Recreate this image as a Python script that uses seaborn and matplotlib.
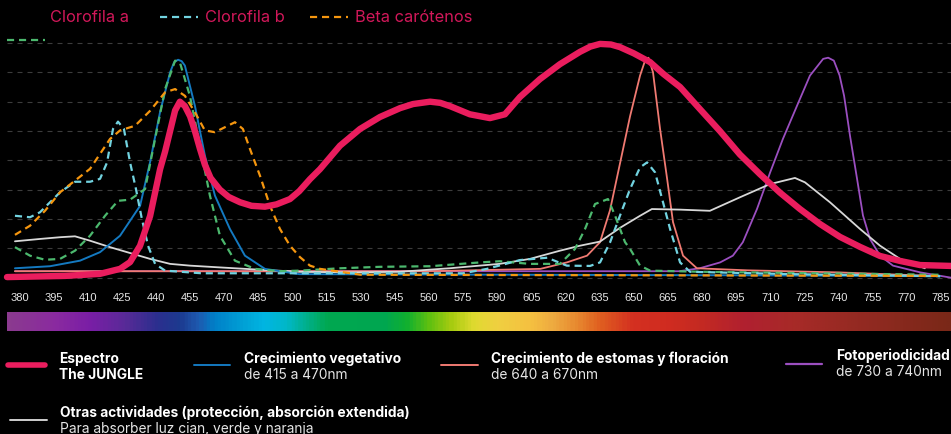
import numpy as np
import pandas as pd
import matplotlib

matplotlib.use("Agg")
import matplotlib.pyplot as plt
import seaborn as sns
from matplotlib.lines import Line2D
from matplotlib.colors import LinearSegmentedColormap

# --- datos (nm, intensidad relativa) ---
espectro_nm = [374.5, 400, 415.4, 424.2, 428.6, 433, 437.4, 441.8, 444, 446.2, 448.4, 450.5, 452.7,
               455, 457.1, 459.3, 461.5, 464, 468.1, 472, 477, 482, 487.9, 493, 498.9, 503,
               507.7, 512.1, 520.9, 529.7, 538.5, 547.3, 553, 560.5, 565, 569.2, 578, 586.8,
               593.4, 600, 608.8, 617.6, 626.4, 631, 635.2, 640, 644, 650, 657.2, 663, 670.4,
               679.1, 687.9, 696.7, 705.5, 714.3, 723.1, 731.9, 740.7, 749.5, 758.3, 767.1,
               775.9, 789.5]
espectro_val = [0.02, 0.06, 0.13, 0.3, 0.53, 1.09, 2.1, 3.7, 4.3, 5.0, 5.7, 6.0, 5.85,
                5.5, 5.0, 4.4, 3.85, 3.4, 3.0, 2.75, 2.57, 2.45, 2.42, 2.5, 2.68, 2.95,
                3.36, 3.7, 4.5, 5.07, 5.48, 5.78, 5.92, 6.0, 5.96, 5.85, 5.57, 5.44,
                5.57, 6.16, 6.77, 7.28, 7.7, 7.88, 7.97, 7.95, 7.86, 7.65, 7.35, 6.95, 6.5,
                5.75, 5.0, 4.2, 3.53, 2.9, 2.34, 1.83, 1.39, 1.05, 0.74, 0.57,
                0.43, 0.4]

vegetativo_nm = [378, 393.4, 406.6, 415.4, 424.2, 433, 437.4, 441.8, 446.2, 448, 449.7, 451.3,
                 452.7, 457.1, 461.5, 465.9, 472.5, 479.1, 487.9, 503, 600, 700, 784.7]
vegetativo_val = [0.32, 0.39, 0.58, 0.87, 1.43, 2.45, 3.94, 5.65, 7.0, 7.35, 7.43, 7.38,
                  7.23, 5.86, 4.16, 2.8, 1.66, 0.75, 0.3, 0.12, 0.1, 0.08, 0.05]

estomas_nm = [378, 560, 609, 620.6, 629.5, 635.2, 639.6, 644, 648.4, 652.8, 655, 656.5, 658.5,
              661.6, 664.7, 667.3, 671.7, 677.8, 700, 740, 784.7]
estomas_val = [0.22, 0.22, 0.3, 0.52, 0.75, 1.21, 2.3, 3.9, 5.5, 6.89, 7.4, 7.5, 7.0,
               5.07, 3.37, 1.89, 0.75, 0.32, 0.25, 0.18, 0.05]

foto_nm = [378, 670, 679, 688, 693.6, 698, 704.2, 710, 715.6, 721.8, 727.5, 733.3, 735.5, 738,
           740.5, 742.5, 745.1, 748.2, 750.8, 753.9, 758.3, 764, 776, 789.5]
foto_val = [0.22, 0.22, 0.32, 0.52, 0.75, 1.21, 2.34, 3.59, 4.73, 5.86, 6.89, 7.46, 7.5, 7.4,
            6.9, 6.2, 4.84, 3.37, 2.12, 1.32, 0.75, 0.41, 0.18, 0.0]

otras_nm = [378, 389, 398, 404.4, 411, 419.8, 428.6, 437.4, 446.2, 455, 468, 486, 503.3, 525,
            547, 569, 591, 604.4, 617.6, 626.4, 635.2, 644, 652.8, 658, 670.4, 683.5, 696.7,
            709.9, 720.9, 725.3, 736.3, 749.5, 758.3, 767.1, 778]
otras_val = [1.24, 1.32, 1.38, 1.41, 1.26, 1.04, 0.84, 0.64, 0.47, 0.41, 0.35, 0.27, 0.2, 0.18,
             0.2, 0.32, 0.47, 0.64, 0.92, 1.09, 1.23, 1.7, 2.11, 2.34, 2.32, 2.28, 2.74,
             3.19, 3.4, 3.25, 2.57, 1.66, 1.09, 0.64, 0.32]

clorofila_b_nm = [378, 384.6, 389, 393.4, 397.8, 404.4, 411, 415.4, 418.5, 421.1, 423.3, 425.9,
                  428.6, 431.2, 433.8, 436.5, 439.6, 444, 460, 575, 585.5, 600, 612, 620.6,
                  630.8, 635.2, 639.6, 644, 648.4, 652.8, 655.9, 659.4, 662.9, 666, 670.4,
                  674.8, 720, 784.7]
clorofila_b_val = [2.11, 2.06, 2.23, 2.57, 2.91, 3.27, 3.27, 3.37, 3.93, 5.07, 5.32, 5.07,
                   3.93, 3.02, 2.0, 1.09, 0.47, 0.24, 0.15, 0.15, 0.3, 0.6, 0.68, 0.41,
                   0.4, 0.52, 1.2, 2.12, 3.02, 3.76, 3.93, 3.59, 2.57, 1.66, 0.52,
                   0.2, 0.12, 0.05]

beta_nm = [378, 384.6, 391.2, 397.8, 404.4, 411, 415.4, 419.8, 424.2, 430.8, 437.4, 444, 448.4,
           452.7, 457.1, 461.5, 465.9, 470.3, 474.7, 478.2, 481.3, 485.7, 490.1, 494.5, 498.9,
           503.3, 507.7, 512.1, 530, 784.7]
beta_val = [1.46, 1.77, 2.28, 2.91, 3.31, 3.71, 4.22, 4.73, 5.02, 5.18, 5.69, 6.32, 6.43,
            6.2, 5.64, 5.02, 4.96, 5.13, 5.3, 5.07, 4.39, 3.48, 2.45, 1.66, 1.09,
            0.7, 0.41, 0.3, 0.1, 0.06]

verde_nm = [378, 384.6, 391.2, 397.8, 404.4, 411, 417.6, 423.3, 428.6, 435.2, 439.6, 444, 448.4,
            450.5, 454.9, 459.3, 463.7, 468.1, 474.7, 483.5, 494.5, 503.3, 520.9, 538.5, 560.5,
            582.4, 591.2, 604.4, 617.6, 624.2, 628.6, 633, 638.7, 641.8, 644, 646.2, 648.4,
            652.8, 657.2, 680, 730, 784.7]
verde_val = [1.04, 0.75, 0.61, 0.64, 0.92, 1.43, 2.11, 2.62, 2.66, 3.02, 4.73, 6.43, 7.4,
             7.34, 6.2, 4.5, 2.8, 1.43, 0.58, 0.3, 0.22, 0.24, 0.32, 0.37, 0.39,
             0.52, 0.56, 0.47, 0.47, 0.98, 1.66, 2.51, 2.68, 2.12, 1.66, 1.21, 0.98,
             0.41, 0.24, 0.2, 0.15, 0.1]

tick_nm = list(range(380, 786, 15))

# colores del espectro visible (nm, color)
spectrum_stops = [(374.5, "#8b3a8f"), (395, "#8a2aa0"), (410, "#7a1ea6"), (425, "#5a2a98"),
                  (440, "#2b2f8e"), (450, "#1c3a8f"), (458, "#1e5ab0"), (465, "#0080c8"),
                  (480, "#00a6d8"), (487, "#00b5e2"), (497, "#00b8c8"), (505, "#00b090"),
                  (515, "#00a850"), (540, "#00a651"), (550, "#10b030"), (560, "#60c010"),
                  (570, "#a8cc10"), (580, "#e0da30"), (590, "#f0d040"), (605, "#f5c040"),
                  (615, "#eeaa40"), (625, "#e88a30"), (635, "#e06020"), (650, "#d43020"),
                  (665, "#d02c20"), (680, "#c42a22"), (700, "#b02030"), (720, "#a82a28"),
                  (750, "#942a22"), (789.5, "#7a2818")]

sns.set_style("dark", {"axes.facecolor": "black", "figure.facecolor": "black"})
plt.rcParams["font.family"] = ["Inter", "DejaVu Sans"]

W, H = 951, 435
fig = plt.figure(figsize=(W / 100, H / 100), dpi=100)
fig.patch.set_facecolor("black")

XMIN, XMAX = 374.5, 789.5
YMIN, YMAX = -0.1, 8.1
ax = fig.add_axes([7 / W, 1 - 281.6 / H, 944 / W, (281.6 - 41.1) / H])
ax.set_facecolor("black")

for yv in range(0, 9):
    ax.axhline(yv, color="#3c3c3c", lw=0.8, ls=(0, (4.5, 4.5)), zorder=0)


def draw(nm, val, color, lw, ls="-", z=2):
    df = pd.DataFrame({"nm": nm, "val": val})
    sns.lineplot(data=df, x="nm", y="val", ax=ax, color=color, lw=lw, linestyle=ls,
                 estimator=None, sort=False, zorder=z, clip_on=False,
                 solid_capstyle="round", solid_joinstyle="round")


dash = (0, (3.2, 2.2))
draw(foto_nm, foto_val, "#9b4fc0", 1.3, z=2)
draw(estomas_nm, estomas_val, "#f07a72", 1.3, z=3)
draw(otras_nm, otras_val, "#d8d8d8", 1.3, z=3)
draw(vegetativo_nm, vegetativo_val, "#1479c0", 1.4, z=3)
draw(verde_nm, verde_val, "#4cb86e", 1.6, ls=dash, z=4)
draw(clorofila_b_nm, clorofila_b_val, "#72d3e0", 1.6, ls=dash, z=4)
draw(beta_nm, beta_val, "#f5960f", 1.6, ls=dash, z=4)
draw(espectro_nm, espectro_val, "#ea1d5e", 4.6, z=6)

ax.set_xlim(XMIN, XMAX)
ax.set_ylim(YMIN, YMAX)
ax.set_xticks(tick_nm)
ax.set_xticklabels([str(t) for t in tick_nm], family=["Liberation Sans", "DejaVu Sans"],
                   fontsize=8, color="#e6e6e6")
ax.tick_params(axis="x", length=0, pad=8)
ax.set_yticks([])
ax.set_xlabel("")
ax.set_ylabel("")
for s in ax.spines.values():
    s.set_visible(False)

# barra del espectro
cax = fig.add_axes([7 / W, 1 - 332 / H, 944 / W, 19 / H])
cmap = LinearSegmentedColormap.from_list(
    "spec", [((n - XMIN) / (XMAX - XMIN), c) for n, c in spectrum_stops])
cax.imshow(np.linspace(0, 1, 600)[None, :], aspect="auto", cmap=cmap,
           extent=[XMIN, XMAX, 0, 1])
cax.set_xlim(XMIN, XMAX)
cax.axis("off")


def fx(px):
    return px / W


def fy(py):
    return 1 - py / H


def handle(x0, x1, y, color, lw, ls="-"):
    fig.add_artist(Line2D([fx(x0), fx(x1)], [fy(y), fy(y)], color=color, lw=lw,
                          linestyle=ls, transform=fig.transFigure))


# leyenda superior
crimson = "#d2185a"
fs_top = 11.8
fig.text(fx(50), fy(17), "Clorofila a", color=crimson, fontsize=fs_top, va="center")
handle(160, 198, 18, "#72d3e0", 1.6, dash)
fig.text(fx(205), fy(17), "Clorofila b", color=crimson, fontsize=fs_top, va="center")
handle(310, 348, 18, "#f5960f", 1.6, dash)
fig.text(fx(355), fy(17), "Beta carótenos", color=crimson, fontsize=fs_top, va="center")
handle(7, 45, 41, "#4cb86e", 1.6, dash)

# leyenda inferior
fs = 9.9
handle(8, 45, 366, "#ea1d5e", 4)
fig.text(fx(59), fy(359), "Espectro", color="white", fontsize=fs, weight="bold", va="center")
fig.text(fx(59), fy(375.5), "The JUNGLE", color="white", fontsize=fs, weight="bold", va="center")

handle(194, 230, 365.5, "#1479c0", 1.4)
fig.text(fx(244), fy(359), "Crecimiento vegetativo", color="white", fontsize=fs,
         weight="bold", va="center")
fig.text(fx(244), fy(375), "de 415 a 470nm", color="#e6e6e6", fontsize=fs, va="center")

handle(441, 478, 366, "#f07a72", 1.4)
fig.text(fx(491), fy(359), "Crecimiento de estomas y floración", color="white", fontsize=fs,
         weight="bold", va="center")
fig.text(fx(491), fy(375), "de 640 a 670nm", color="#e6e6e6", fontsize=fs, va="center")

handle(786, 822, 364.5, "#9b4fc0", 1.6)
fig.text(fx(836), fy(356), "Fotoperiodicidad", color="white", fontsize=fs, weight="bold",
         va="center")
fig.text(fx(836), fy(372), "de 730 a 740nm", color="#e6e6e6", fontsize=fs, va="center")

handle(10, 47, 420.5, "#cfcfcf", 1.4)
fig.text(fx(60), fy(413), "Otras actividades (protección, absorción extendida)", color="white",
         fontsize=fs, weight="bold", va="center")
fig.text(fx(60), fy(429.5), "Para absorber luz cian, verde y naranja", color="#e6e6e6",
         fontsize=fs, va="center")

fig.savefig("out.png", dpi=100, facecolor="black")
